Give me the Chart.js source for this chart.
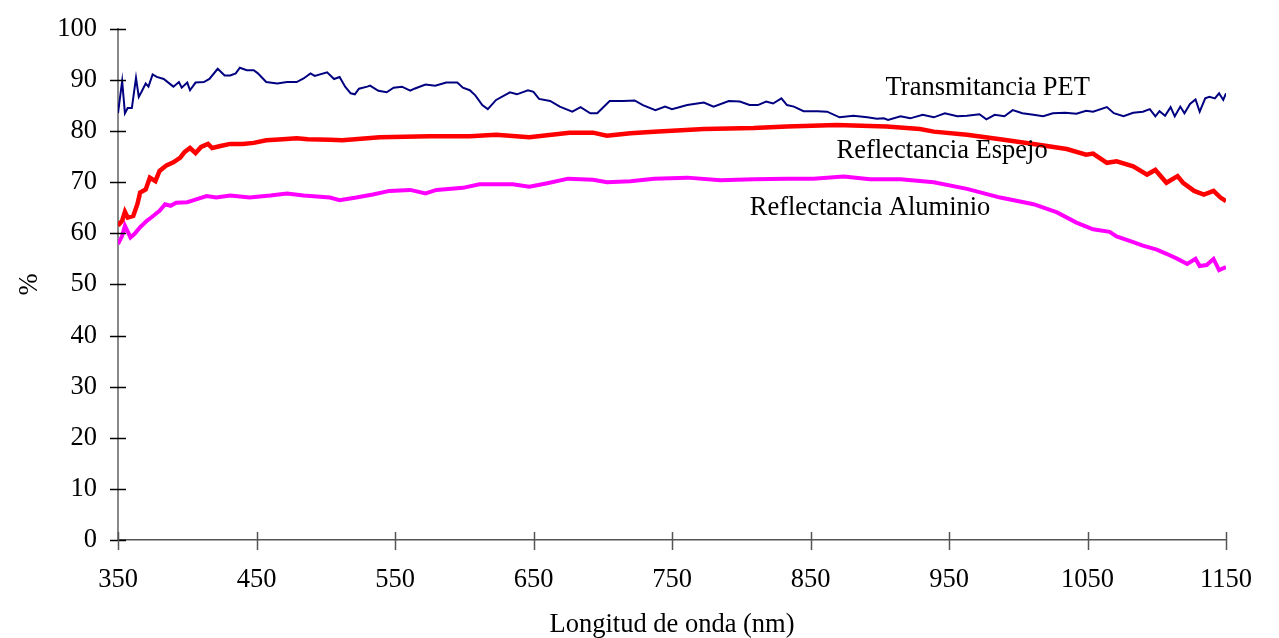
<!DOCTYPE html>
<html lang="es">
<head>
<meta charset="UTF-8">
<script src="https://cdn.jsdelivr.net/npm/chart.js@4.4.0/dist/chart.umd.min.js"></script>
<title>Transmitancia y reflectancia</title>
<style>body{margin:0;background:#fff}</style>
</head>
<body>
<canvas id="grafico" width="1279" height="638"></canvas>
<script>
const wlPet = [350,353,355,357,360,363,365,367,370,372,375,378,383,390,394,396,400,402,406,412,416,422,427,431,435,438,443,448,451,457,465,472,479,484,489,492,501,506,510,514,518,521,524,530,532,538,544,549,555,561,564,572,579,587,595,599,604,608,613,617,623,633,638,646,650,654,662,669,678,684,691,696,705,715,723,729,738,745,750,761,773,780,791,799,806,812,818,823,829,833,838,845,855,862,871,881,891,898,903,906,915,922,931,939,947,956,963,972,977,983,990,996,1003,1011,1018,1025,1034,1042,1049,1054,1064,1069,1076,1083,1090,1095,1099,1102,1106,1110,1113,1117,1120,1124,1128,1131,1135,1138,1142,1145,1148,1150];
const pet = [83.5,89.8,83.5,84.5,84.5,90.4,86.7,87.7,89.3,88.7,91.1,90.6,90.2,88.7,89.6,88.5,89.5,88.0,89.5,89.6,90.2,92.2,90.9,90.9,91.3,92.4,91.9,91.9,91.3,89.6,89.3,89.6,89.6,90.3,91.3,90.8,91.5,90.2,90.6,88.7,87.4,87.2,88.3,88.7,88.9,87.9,87.6,88.5,88.7,87.9,88.3,89.1,88.9,89.5,89.5,88.5,88.0,87.0,85.1,84.3,86.1,87.6,87.2,88.0,87.7,86.3,85.9,84.8,83.8,84.7,83.5,83.5,85.9,85.9,86.0,85.1,84.1,84.8,84.3,85.1,85.6,84.8,85.9,85.8,85.1,85.1,85.8,85.4,86.4,85.1,84.8,83.9,83.9,83.8,82.7,83.0,82.7,82.4,82.5,82.2,82.9,82.5,83.2,82.7,83.5,82.9,83.0,83.3,82.3,83.2,82.9,84.1,83.5,83.2,82.9,83.5,83.6,83.4,84.0,83.8,84.7,83.5,82.9,83.6,83.8,84.3,82.9,83.9,83.0,84.7,82.9,84.8,83.5,85.3,86.2,83.8,86.4,86.7,86.4,87.4,86.1,87.4];

const wlEspejo = [350,353,355,357,361,364,366,370,373,377,380,385,390,395,398,402,406,410,415,418,424,431,440,448,457,469,479,487,503,512,539,575,604,623,647,676,693,703,720,737,773,809,833,869,905,929,939,963,987,1011,1035,1049,1054,1064,1071,1083,1093,1099,1107,1115,1119,1127,1134,1141,1146,1150];
const espejo = [61.5,62.5,64.2,63.1,63.4,65.7,68.0,68.6,70.9,70.2,72.2,73.3,73.9,74.8,75.9,76.7,75.7,76.9,77.5,76.7,77.1,77.5,77.5,77.7,78.2,78.4,78.6,78.4,78.3,78.2,78.8,79.0,79.0,79.3,78.8,79.7,79.7,79.1,79.6,79.9,80.4,80.6,80.9,81.2,80.9,80.4,79.9,79.3,78.4,77.5,76.5,75.4,75.6,73.8,74.1,73.1,71.5,72.4,69.9,71.2,69.9,68.3,67.6,68.3,67.0,66.3];

const wlAluminio = [350,353,355,359,362,366,371,374,380,384,388,392,400,407,414,421,431,445,460,472,484,503,510,522,534,546,561,572,580,599,611,635,647,660,675,693,703,720,737,761,785,809,833,852,874,893,915,939,963,987,1011,1028,1042,1054,1066,1071,1083,1090,1100,1107,1115,1122,1128,1131,1136,1141,1145,1150];
const aluminio = [57.9,59.5,61.5,59.2,59.9,61.2,62.5,63.1,64.4,65.7,65.4,66.0,66.1,66.7,67.3,67.0,67.4,67.0,67.4,67.8,67.4,67.0,66.5,67.0,67.6,68.3,68.5,67.8,68.5,68.9,69.6,69.6,69.1,69.8,70.7,70.5,70.0,70.2,70.7,70.9,70.4,70.6,70.7,70.7,71.1,70.6,70.6,70.0,68.7,67.0,65.7,64.1,62.1,60.8,60.3,59.4,58.3,57.6,56.8,56.0,55.0,54.0,55.0,53.6,53.8,55.0,52.8,53.4];

const xTicks = [350,450,550,650,750,850,950,1050,1150];
const yTicks = [0,10,20,30,40,50,60,70,80,90,100];

// rotulos de las curvas
const rotulos = ['Transmitancia PET', 'Reflectancia Espejo', 'Reflectancia Aluminio'];
const rotuloX = [978, 945, 893];
const rotuloY = [88.5, 76.1, 65.0];

const fuente = '"Liberation Serif", "Times New Roman", serif';
const tam = 26.5;

function puntos(wl, vals) {
  return wl.map((x, i) => ({ x: x, y: vals[i] }));
}

// marcas cruzadas sobre los ejes y textos de las curvas
const marcas = {
  id: 'marcas',
  afterDraw(chart) {
    const ctx = chart.ctx;
    const x = chart.scales.x, y = chart.scales.y;
    ctx.save();
    ctx.lineWidth = 1.5;
    ctx.strokeStyle = '#000';
    y.ticks.forEach(t => {
      const py = Math.round(y.getPixelForValue(t.value)) + 0.5;
      ctx.beginPath();
      ctx.moveTo(x.left - 8, py);
      ctx.lineTo(x.left + 8, py);
      ctx.stroke();
    });
    ctx.strokeStyle = '#555';
    x.ticks.forEach(t => {
      const px = Math.round(x.getPixelForValue(t.value)) + 0.5;
      ctx.beginPath();
      ctx.moveTo(px, y.bottom - 8);
      ctx.lineTo(px, y.bottom + 10);
      ctx.stroke();
    });
    ctx.font = tam + 'px ' + fuente;
    ctx.fillStyle = '#000';
    ctx.textAlign = 'center';
    ctx.textBaseline = 'middle';
    rotulos.forEach((r, i) => {
      ctx.fillText(r, x.getPixelForValue(rotuloX[i]), y.getPixelForValue(rotuloY[i]));
    });
    ctx.restore();
  }
};

const ctx = document.getElementById('grafico').getContext('2d');
const grafico = new Chart(ctx, {
  type: 'line',
  data: {
    datasets: [
      { label: rotulos[0], data: puntos(wlPet, pet), borderColor: '#000080', borderWidth: 2 },
      { label: rotulos[1], data: puntos(wlEspejo, espejo), borderColor: '#ff0000', borderWidth: 4.5 },
      { label: rotulos[2], data: puntos(wlAluminio, aluminio), borderColor: '#ff00ff', borderWidth: 4 }
    ]
  },
  options: {
    responsive: false,
    animation: false,
    layout: { padding: { top: 25, right: 53, left: 0, bottom: 0 } },
    elements: { point: { radius: 0 }, line: { tension: 0 } },
    plugins: { legend: { display: false }, tooltip: { enabled: false } },
    scales: {
      x: {
        type: 'linear',
        min: 350,
        max: 1150,
        afterBuildTicks: s => { s.ticks = xTicks.map(v => ({ value: v })); },
        afterFit: s => { s.height = 98; },
        grid: { drawOnChartArea: false, color: 'rgba(0,0,0,0)', tickLength: 8 },
        border: { color: '#555', width: 1.5 },
        ticks: { color: '#000', font: { family: fuente, size: tam }, padding: 16, maxRotation: 0, callback: v => String(v) },
        title: { display: true, text: 'Longitud de onda (nm)', color: '#000', font: { family: fuente, size: tam, lineHeight: 1 }, padding: 0 }
      },
      y: {
        min: 0,
        max: 100,
        afterBuildTicks: s => { s.ticks = yTicks.map(v => ({ value: v })); },
        afterFit: s => { s.width = 118; },
        grid: { drawOnChartArea: false, color: 'rgba(0,0,0,0)', tickLength: 8 },
        border: { color: '#888', width: 2 },
        ticks: { color: '#000', font: { family: fuente, size: tam }, padding: 13, callback: v => String(v) },
        title: { display: true, text: '%', color: '#000', font: { family: fuente, size: tam, lineHeight: 1 }, padding: { top: 17, bottom: 0 } }
      }
    }
  },
  plugins: [marcas]
});
</script>
</body>
</html>
